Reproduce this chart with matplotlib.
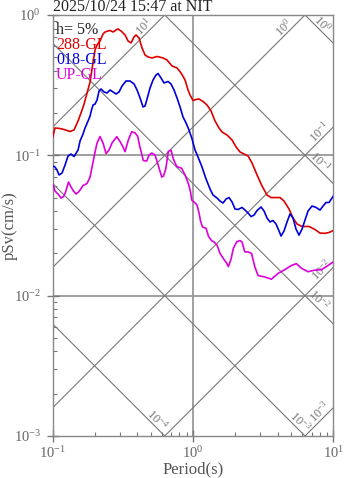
import numpy as np
import matplotlib
matplotlib.use("Agg")
import matplotlib.pyplot as plt
from matplotlib.ticker import FixedLocator, LogLocator, NullFormatter

plt.rcParams['font.family'] = ['Liberation Serif', 'DejaVu Serif']
plt.rcParams['mathtext.fontset'] = 'custom'
plt.rcParams['mathtext.rm'] = 'Liberation Serif'
plt.rcParams['mathtext.it'] = 'Liberation Serif:italic'

# ---------------- DATA ----------------
TITLE = "2025/10/24 15:47 at NIT"
DAMPING = "h= 5%"
components = ["288-GL", "018-GL", "UP-GL"]
colors = ["#dd0000", "#0000dd", "#dd00dd"]

# 288-GL
t_288 = [0.100, 0.1038, 0.1127, 0.1204, 0.1328, 0.1418, 0.1515, 0.1618, 0.1672, 0.1756,
         0.1845, 0.1938, 0.2003, 0.2069, 0.2173, 0.2283, 0.2359, 0.2479, 0.2561, 0.2691,
         0.2826, 0.2920, 0.3068, 0.3276, 0.3441, 0.3615, 0.3797, 0.3924, 0.4123, 0.4330,
         0.4549, 0.4779, 0.5105, 0.5540, 0.6112, 0.6527, 0.7084, 0.7691, 0.8214, 0.8770,
         0.9213, 0.9520, 1.000, 1.050, 1.104, 1.178, 1.258, 1.344, 1.435, 1.532,
         1.610, 1.747, 1.897, 2.026, 2.163, 2.310, 2.466, 2.634, 2.859, 3.103,
         3.369, 3.597, 3.904, 4.170, 4.452, 4.834, 5.162, 5.511, 5.983, 6.712,
         7.405, 8.041, 8.727, 9.318, 10.0]
sv_288 = [0.1350, 0.1565, 0.1552, 0.1527, 0.1478, 0.1515, 0.1756, 0.2103, 0.2320, 0.2779,
          0.3331, 0.4624, 0.5630, 0.6111, 0.6528, 0.7320, 0.7562, 0.7691, 0.7754, 0.7562,
          0.7818, 0.7948, 0.7691, 0.7201, 0.6528, 0.6317, 0.6969, 0.7201, 0.6856, 0.5818,
          0.5187, 0.5020, 0.4938, 0.5061, 0.4938, 0.4778, 0.4330, 0.4190, 0.3860, 0.3440,
          0.2920, 0.2691, 0.2458, 0.2499, 0.2519, 0.2418, 0.2283, 0.2068, 0.1756, 0.1565,
          0.1466, 0.1395, 0.1285, 0.1146, 0.1056, 0.1021, 0.0989, 0.0881, 0.0724, 0.0604,
          0.0521, 0.0500, 0.0500, 0.0500, 0.0472, 0.0414, 0.0357, 0.0324, 0.0311, 0.0311,
          0.0296, 0.0279, 0.0278, 0.0282, 0.0291]

# 018-GL
t_018 = [0.100, 0.1038, 0.1073, 0.1109, 0.1165, 0.1224, 0.1286, 0.1350, 0.1418, 0.1515,
         0.1565, 0.1644, 0.1699, 0.1785, 0.1845, 0.1890, 0.1938, 0.2003, 0.2069, 0.2138,
         0.2210, 0.2321, 0.2438, 0.2561, 0.2691, 0.2826, 0.2969, 0.3118, 0.3330, 0.3556,
         0.3797, 0.3990, 0.4192, 0.4401, 0.4549, 0.4700, 0.4937, 0.5186, 0.5448, 0.5630,
         0.5914, 0.6213, 0.6634, 0.6969, 0.7320, 0.7691, 0.8079, 0.8487, 0.8915, 0.9365,
         0.9838, 1.0335, 1.0855, 1.159, 1.238, 1.322, 1.388, 1.483, 1.557, 1.636,
         1.719, 1.806, 1.897, 1.993, 2.093, 2.235, 2.348, 2.466, 2.591, 2.722,
         2.859, 3.053, 3.207, 3.369, 3.539, 3.717, 3.904, 4.102, 4.239, 4.452,
         4.677, 4.913, 5.162, 5.421, 5.695, 5.983, 6.285, 6.602, 7.050, 7.529,
         8.041, 8.446, 8.872, 9.318, 10.0]
sv_018 = [0.0839, 0.0825, 0.0786, 0.0724, 0.0748, 0.0853, 0.0989, 0.1021, 0.0980, 0.1090,
          0.1264, 0.1418, 0.1565, 0.1756, 0.1906, 0.2103, 0.2283, 0.2320, 0.2478, 0.2872,
          0.2969, 0.2826, 0.2779, 0.2920, 0.2826, 0.2734, 0.2826, 0.3118, 0.3385, 0.3385,
          0.3224, 0.2920, 0.2561, 0.2209, 0.2246, 0.2519, 0.3018, 0.3440, 0.3736, 0.3828,
          0.3556, 0.3276, 0.3357, 0.3224, 0.2920, 0.2561, 0.2209, 0.1875, 0.1699, 0.1515,
          0.1307, 0.1090, 0.0972, 0.0825, 0.0678, 0.0575, 0.0521, 0.0496, 0.0472, 0.0457,
          0.0488, 0.0500, 0.0465, 0.0414, 0.0411, 0.0425, 0.0407, 0.0388, 0.0366, 0.0375,
          0.0404, 0.0428, 0.0401, 0.0357, 0.0335, 0.0343, 0.0324, 0.0289, 0.0266, 0.0289,
          0.0335, 0.0382, 0.0357, 0.0298, 0.0270, 0.0298, 0.0346, 0.0401, 0.0435, 0.0425,
          0.0407, 0.0435, 0.0461, 0.0461, 0.0513]

# UP-GL
t_up = [0.100, 0.1038, 0.1091, 0.1146, 0.1194, 0.1234, 0.1296, 0.1350, 0.1407, 0.1466,
        0.1540, 0.1644, 0.1756, 0.1845, 0.1938, 0.2003, 0.2069, 0.2173, 0.2283, 0.2398,
        0.2519, 0.2647, 0.2859, 0.3018, 0.3170, 0.3276, 0.3458, 0.3657, 0.3860, 0.4022,
        0.4192, 0.4423, 0.4677, 0.4858, 0.5077, 0.5359, 0.5657, 0.5984, 0.6163, 0.6391,
        0.6670, 0.6969, 0.7236, 0.7652, 0.8307, 0.8770, 0.9288, 0.9598, 0.9788, 1.0165,
        1.0678, 1.104, 1.131, 1.169, 1.238, 1.290, 1.355, 1.412, 1.483, 1.557,
        1.644, 1.739, 1.785, 1.866, 1.938, 2.049, 2.163, 2.235, 2.336, 2.466,
        2.612, 2.754, 2.906, 3.243, 3.615, 4.035, 4.504, 5.020, 5.448, 5.915,
        6.602, 7.368, 8.213, 8.915, 10.0]
sv_up = [0.0624, 0.0556, 0.0530, 0.0496, 0.0508, 0.0547, 0.0645, 0.0594, 0.0556, 0.0530,
         0.0552, 0.0609, 0.0630, 0.0700, 0.0896, 0.1056, 0.1224, 0.1361, 0.1224, 0.1030,
         0.1091, 0.1224, 0.1357, 0.1254, 0.1146, 0.1061, 0.1285, 0.1473, 0.1442, 0.1373,
         0.1137, 0.0918, 0.0911, 0.1005, 0.1038, 0.1005, 0.0846, 0.0700, 0.0712, 0.0799,
         0.1065, 0.1090, 0.0941, 0.0832, 0.0808, 0.0724, 0.0624, 0.0547, 0.0480, 0.0465,
         0.0442, 0.0388, 0.0340, 0.0308, 0.0302, 0.0264, 0.0247, 0.0241, 0.0229, 0.0200,
         0.0184, 0.0170, 0.0161, 0.0182, 0.0217, 0.0242, 0.0247, 0.0241, 0.0205, 0.0205,
         0.0200, 0.0161, 0.0139, 0.0136, 0.0131, 0.0144, 0.0153, 0.0164, 0.0169, 0.0157,
         0.0148, 0.0152, 0.0153, 0.0161, 0.0174]

# tripartite guide lines: acceleration (cm/s2) and displacement (cm)
accel_levels = [1e1, 1e0, 1e-1, 1e-2, 1e-3]
accel_label_t = [0.482, 4.75, 8.61, 8.9, 8.63]
disp_levels = [1e0, 1e-1, 1e-2, 1e-3, 1e-4]
disp_label_t = [7.8, 7.45, 7.28, 5.36, 0.516]

x_ticks = [0.1, 1, 10]
y_ticks = [1e-3, 1e-2, 1e-1, 1e0]
# ---------------------------------------

fig = plt.figure(figsize=(3.47, 4.78), dpi=100)
ax = fig.add_axes([0.152, 0.0879, 0.8086, 0.8808])
ax.set_xscale("log")
ax.set_yscale("log")
ax.set_xlim(0.1, 10)
ax.set_ylim(1e-3, 1)

grey = "#777777"
# grid at the decades
for t in x_ticks[1:-1]:
    ax.axvline(t, color="#999999", lw=1.3, zorder=1)
for s in y_ticks[1:-1]:
    ax.axhline(s, color="#999999", lw=1.3, zorder=1)

tt = np.array([0.01, 100.0])
two_pi = 2 * np.pi
for a, tl in zip(accel_levels, accel_label_t):
    ax.plot(tt, a * tt / two_pi, color=grey, lw=0.8, zorder=1)
    ax.annotate(r"$10^{%d}$" % round(np.log10(a)), (tl, a * tl / two_pi),
                xytext=(-3.3, 3.3), textcoords="offset points",
                rotation=45, rotation_mode="anchor", ha="center", va="center",
                fontsize=9, color=grey, zorder=2)
for d, tl in zip(disp_levels, disp_label_t):
    ax.plot(tt, two_pi * d / tt, color=grey, lw=0.8, zorder=1)
    ax.annotate(r"$10^{%d}$" % round(np.log10(d)), (tl, two_pi * d / tl),
                xytext=(3.3, 3.3), textcoords="offset points",
                rotation=-45, rotation_mode="anchor", ha="center", va="center",
                fontsize=9, color=grey, zorder=2)

# spectra
ax.plot(t_288, sv_288, color=colors[0], lw=1.2, zorder=3)
ax.plot(t_018, sv_018, color=colors[1], lw=1.2, zorder=3)
ax.plot(t_up, sv_up, color=colors[2], lw=1.2, zorder=3)

# legend as plain text lines
ax.text(0.012, 0.955, DAMPING, transform=ax.transAxes, fontsize=11.5,
        color="#222222", va="baseline", zorder=4)
for i, (name, c) in enumerate(zip(components, colors)):
    ax.text(0.012, 0.955 - 0.0355 * (i + 1), name, transform=ax.transAxes,
            fontsize=11.5, color=c, va="baseline", zorder=4)

# axes, ticks
for sp in ax.spines.values():
    sp.set_color("#888888")
    sp.set_linewidth(1.0)
ax.xaxis.set_major_locator(FixedLocator(x_ticks))
ax.yaxis.set_major_locator(FixedLocator(y_ticks))
ax.set_xticklabels([r"$10^{%d}$" % round(np.log10(v)) for v in x_ticks])
ax.set_yticklabels([r"$10^{%d}$" % round(np.log10(v)) for v in y_ticks])
ax.xaxis.set_minor_locator(LogLocator(base=10, subs=np.arange(2, 10)))
ax.yaxis.set_minor_locator(LogLocator(base=10, subs=np.arange(2, 10)))
ax.xaxis.set_minor_formatter(NullFormatter())
ax.yaxis.set_minor_formatter(NullFormatter())
ax.tick_params(which="major", direction="inout", length=9, width=1.0,
               color="#777777", labelcolor="#666666", labelsize=10.5)
ax.tick_params(axis="x", which="major", pad=2)
ax.tick_params(axis="y", which="major", pad=4)
ax.tick_params(which="minor", direction="in", length=3, width=0.8, color="#777777")

ax.set_xlabel("Period(s)", fontsize=12, color="#555555")
ax.set_ylabel("pSv(cm/s)", fontsize=12, color="#555555")
ax.xaxis.set_label_coords(0.5, -0.06)
ax.yaxis.set_label_coords(-0.125, 0.5)

fig.text(53 / 347, 1 - 11 / 478, TITLE, fontsize=11.5, color="#222222",
         ha="left", va="baseline")

fig.savefig("out.png", dpi=100)
